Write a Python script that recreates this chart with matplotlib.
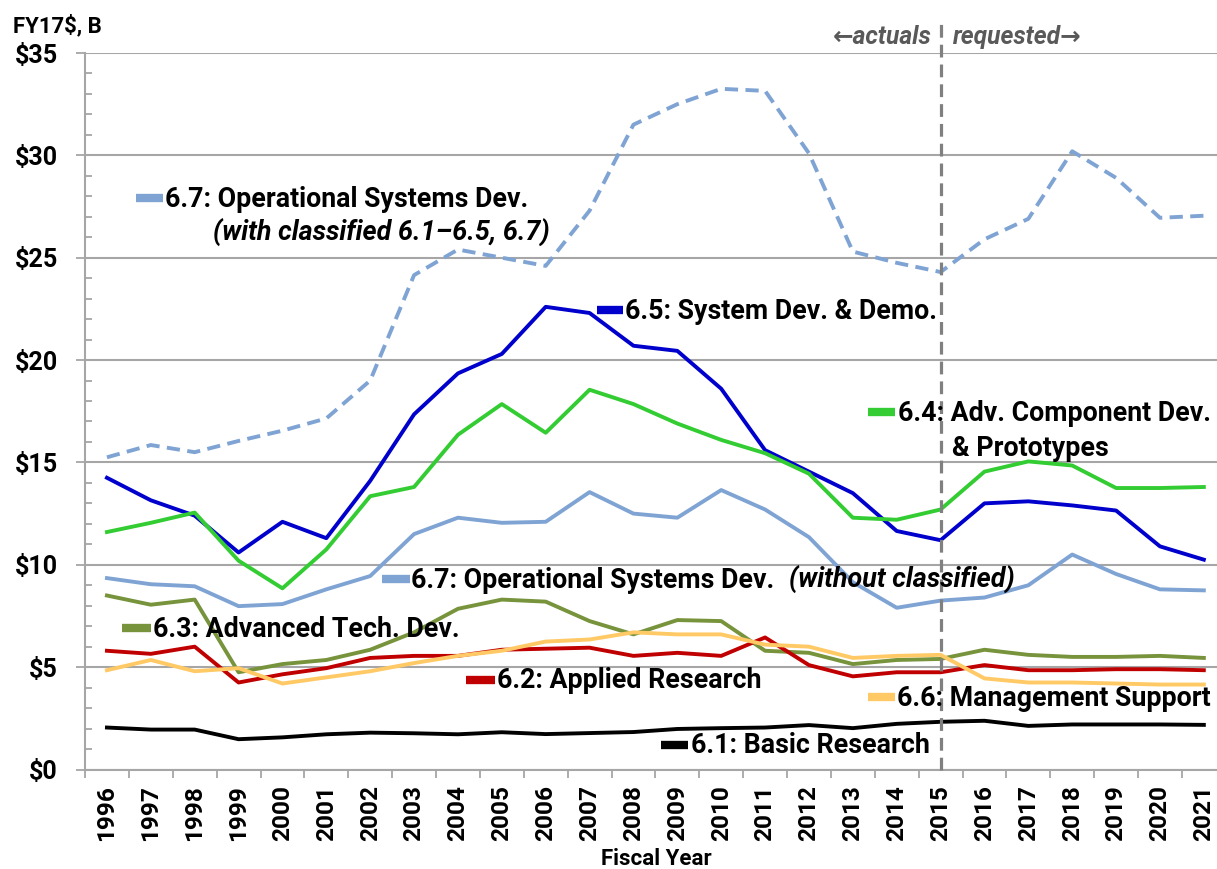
import matplotlib
matplotlib.use("Agg")
import matplotlib.pyplot as plt
from matplotlib.lines import Line2D
from matplotlib.ticker import MultipleLocator, FixedLocator

# ---------------- data ----------------
years = list(range(1996, 2022))
ops_with_classified = [15.25, 15.85, 15.5, 16.05, 16.55, 17.15, 19.0, 24.15, 25.4, 25.0, 24.6,
                       27.3, 31.5, 32.5, 33.25, 33.15, 30.1, 25.3, 24.75, 24.3, 25.9, 26.9,
                       30.2, 28.9, 26.95, 27.05]
sys_dev_demo = [14.25, 13.15, 12.4, 10.6, 12.1, 11.3, 14.1, 17.35, 19.35, 20.3, 22.6, 22.3,
                20.7, 20.45, 18.6, 15.6, 14.55, 13.5, 11.65, 11.2, 13.0, 13.1, 12.9, 12.65,
                10.9, 10.25]
adv_component = [11.6, 12.05, 12.55, 10.2, 8.85, 10.75, 13.35, 13.8, 16.35, 17.85, 16.45, 18.55,
                 17.85, 16.9, 16.1, 15.45, 14.45, 12.3, 12.2, 12.7, 14.55, 15.05, 14.85, 13.75,
                 13.75, 13.8]
ops_without_classified = [9.35, 9.05, 8.95, 7.98, 8.08, 8.8, 9.45, 11.5, 12.3, 12.05, 12.1, 13.55,
                          12.5, 12.3, 13.65, 12.7, 11.35, 9.15, 7.9, 8.25, 8.4, 9.0, 10.5, 9.55,
                          8.8, 8.75]
adv_tech = [8.5, 8.05, 8.3, 4.75, 5.15, 5.35, 5.85, 6.7, 7.85, 8.3, 8.2, 7.25, 6.6, 7.3, 7.25,
            5.8, 5.7, 5.15, 5.35, 5.4, 5.85, 5.6, 5.5, 5.5, 5.55, 5.45]
applied_research = [5.8, 5.65, 6.0, 4.25, 4.65, 4.95, 5.45, 5.55, 5.55, 5.85, 5.9, 5.95, 5.55,
                    5.7, 5.55, 6.45, 5.1, 4.55, 4.75, 4.75, 5.1, 4.85, 4.85, 4.9, 4.9, 4.85]
mgmt_support = [4.85, 5.35, 4.8, 4.95, 4.2, 4.5, 4.8, 5.2, 5.55, 5.8, 6.25, 6.35, 6.7, 6.6, 6.6,
                6.1, 6.0, 5.45, 5.55, 5.6, 4.45, 4.25, 4.25, 4.2, 4.15, 4.15]
basic_research = [2.05, 1.95, 1.95, 1.48, 1.57, 1.72, 1.8, 1.77, 1.72, 1.82, 1.73, 1.78, 1.83,
                  1.98, 2.02, 2.05, 2.17, 2.02, 2.23, 2.33, 2.38, 2.13, 2.2, 2.2, 2.2, 2.18]
last_actual_year = 2015
y_ticks = [0, 5, 10, 15, 20, 25, 30, 35]
y_tick_labels = ["$0", "$5", "$10", "$15", "$20", "$25", "$30", "$35"]

# ---------------- style ----------------
W, H = 1217, 869
FONT = ["Roboto", "DejaVu Sans"]
plt.rcParams["font.family"] = FONT

C_LB = "#7FA4D4"
C_BLUE = "#0000CC"
C_GREEN = "#33CC33"
C_OLIVE = "#77933C"
C_RED = "#C00000"
C_ORANGE = "#FFC966"
C_BLACK = "#000000"
GRID = "#A6A6A6"

fig = plt.figure(figsize=(W / 100, H / 100), dpi=100)
renderer = fig.canvas.get_renderer()


def fit_size(s, target_px, style="normal", base=20.0):
    t = fig.text(0, 0, s, fontsize=base, fontweight="bold", fontstyle=style)
    w = t.get_window_extent(renderer=renderer).width
    t.remove()
    return base * target_px / w


# one common size for the series labels, fitted to their widths in the reference
label_targets = [("6.7: Operational Systems Dev.", 367), ("6.5: System Dev. & Demo.", 315),
                 ("6.4: Adv. Component Dev.", 317), ("6.3: Advanced Tech. Dev.", 304),
                 ("6.2: Applied Research", 261), ("6.6: Management Support", 318),
                 ("6.1: Basic Research", 230)]
sizes = [fit_size(s, w) for s, w in label_targets]
LABEL_FS = sum(sizes) / len(sizes)
ITALIC_FS = fit_size("(with classified 6.1\u20136.5, 6.7)", 337, style="italic")
YT_FS = fit_size("$35", 43)
XT_FS = fit_size("2021", 56)
TITLE_FS = fit_size("FY17$, B", 89)
XLAB_FS = fit_size("Fiscal Year", 110)
ANN_FS = fit_size("requested\u2192", 129, style="italic")

ax_left, ax_top, ax_bottom = 85, 53, 769.5
ax = fig.add_axes([ax_left / W, 1 - ax_bottom / H, 1 - ax_left / W, (ax_bottom - ax_top) / H])

x = list(range(len(years)))
LW = 2.8
ax.plot(x, ops_with_classified, color=C_LB, lw=LW, linestyle=(0, (3.4, 1.9)), zorder=3)
ax.plot(x, sys_dev_demo, color=C_BLUE, lw=LW, zorder=3)
ax.plot(x, adv_component, color=C_GREEN, lw=LW, zorder=3)
ax.plot(x, ops_without_classified, color=C_LB, lw=LW, zorder=3)
ax.plot(x, adv_tech, color=C_OLIVE, lw=LW, zorder=3)
ax.plot(x, applied_research, color=C_RED, lw=LW, zorder=3)
ax.plot(x, mgmt_support, color=C_ORANGE, lw=LW, zorder=3)
ax.plot(x, basic_research, color=C_BLACK, lw=LW, zorder=3)

ax.set_xlim(-0.5, 25.3)
ax.set_ylim(0, 35)

# y axis
ax.set_yticks(y_ticks)
ax.set_yticklabels(y_tick_labels, fontsize=YT_FS, fontweight="bold")
ax.yaxis.set_minor_locator(MultipleLocator(1))
ax.tick_params(axis="y", which="major", direction="out", length=6.5, width=1.3, color=GRID, pad=13)
ax.tick_params(axis="y", which="minor", direction="in", length=5, width=1.3, color=GRID)
ax.grid(axis="y", which="major", color=GRID, lw=1.5, zorder=0)

# x axis
ax.set_xticks(x)
ax.set_xticklabels([str(y) for y in years], rotation=90, fontsize=XT_FS, fontweight="bold")
ax.xaxis.set_minor_locator(FixedLocator([i + 0.5 for i in range(-1, len(years))]))
ax.tick_params(axis="x", which="major", length=0, pad=11)
ax.tick_params(axis="x", which="minor", direction="out", length=6, width=1.3, color=GRID)

for s in ["top", "right"]:
    ax.spines[s].set_visible(False)
for s in ["left", "bottom"]:
    ax.spines[s].set_color(GRID)
    ax.spines[s].set_linewidth(1.5)

# actuals / requested divider
xd = years.index(last_actual_year)
y_top = (ax_bottom - 22) / (ax_bottom - ax_top) * 35
ax.plot([xd, xd], [0, y_top], color="#808080", lw=2.3, linestyle=(0, (4, 2.2)),
        clip_on=False, zorder=6)


def fx(px):
    return px / W


def fy(py):
    return 1 - py / H


def swatch(x0, x1, yc, color):
    fig.add_artist(Line2D([fx(x0), fx(x1)], [fy(yc), fy(yc)], color=color, lw=6,
                          solid_capstyle="butt", transform=fig.transFigure, zorder=5))


def label(px, py, s, style="normal", size=None, color="black"):
    fig.text(fx(px), fy(py), s, fontsize=size or LABEL_FS, fontweight="bold", fontstyle=style,
             color=color, ha="left", va="baseline", zorder=5)


fig.text(fx(13), fy(32), "FY17$, B", fontsize=TITLE_FS, fontweight="bold", ha="left", va="baseline")
fig.text(fx(656), fy(865), "Fiscal Year", fontsize=XLAB_FS, fontweight="bold", ha="center",
         va="baseline")
fig.text(fx(932), fy(44), "\u2190actuals", fontsize=ANN_FS, fontweight="bold", fontstyle="italic",
         color="#595959", ha="right", va="baseline")
fig.text(fx(953), fy(44), "requested\u2192", fontsize=ANN_FS, fontweight="bold", fontstyle="italic",
         color="#595959", ha="left", va="baseline")

swatch(136, 163, 198, C_LB)
label(165, 207, "6.7: Operational Systems Dev.")
label(213, 241, "(with classified 6.1\u20136.5, 6.7)", style="italic", size=ITALIC_FS)

swatch(597, 623, 310, C_BLUE)
label(625, 319, "6.5: System Dev. & Demo.")

swatch(868, 895, 412, C_GREEN)
label(898, 421, "6.4: Adv. Component Dev.")
label(952, 456, "& Prototypes")

swatch(382, 410, 579, C_LB)
label(411, 588, "6.7: Operational Systems Dev.")
label(789, 588, "(without classified)", style="italic", size=ITALIC_FS)

swatch(122, 151, 628, C_OLIVE)
label(153, 637, "6.3: Advanced Tech. Dev.")

swatch(466, 495, 680, C_RED)
label(497, 688, "6.2: Applied Research")

swatch(868, 895, 697, C_ORANGE)
label(897, 706, "6.6: Management Support")

swatch(661, 688, 745, C_BLACK)
label(691, 753, "6.1: Basic Research")

fig.savefig("out.png", dpi=100)
